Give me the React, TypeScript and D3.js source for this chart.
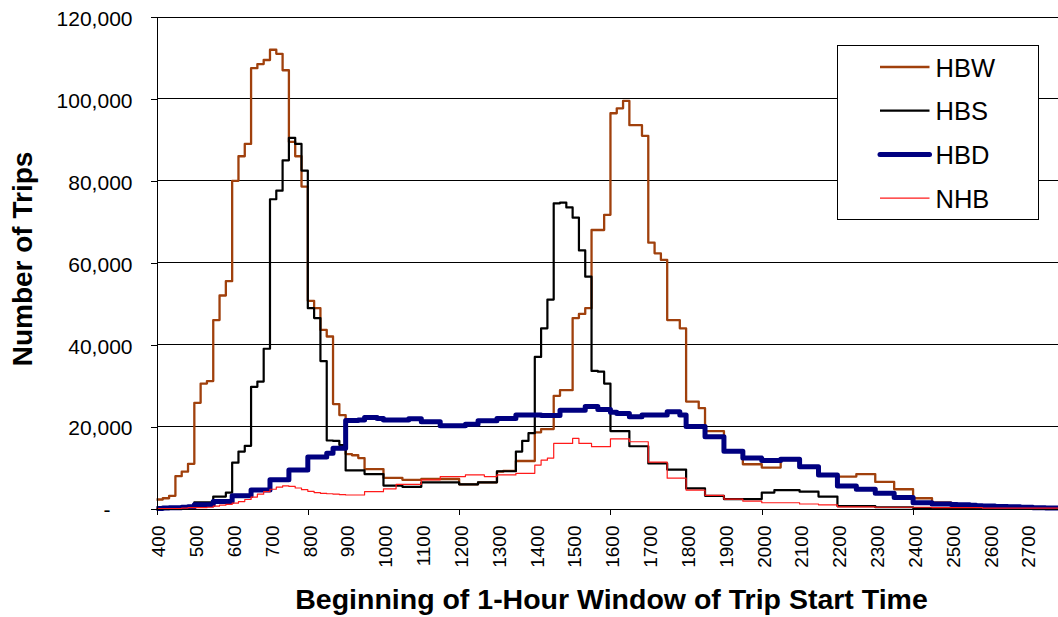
import React, { useEffect, useRef } from 'react';
import * as d3 from 'd3';

// Trips in a rolling 1-hour window, one value per 10-minute start time (400, 410, ... 2750)
const hbw = [
  2200, 2500, 3100, 7900, 9000, 10900, 25800, 30500, 31100, 46000, 52000, 55500,
  80000, 86000, 89000, 107500, 108500, 109500, 112000, 111000, 107000, 89500, 86000, 78600,
  50700, 48900, 43600, 42000, 25500, 22800, 13300, 13000, 12300, 9600, 9600, 9600,
  7500, 7500, 7500, 7000, 7000, 7000, 7200, 7200, 7200, 7200, 7200, 7200,
  5900, 5900, 5900, 6400, 6400, 6400, 9000, 9200, 9200, 11600, 11600, 11600,
  18600, 19400, 19400, 27500, 28900, 28900, 46500, 47500, 48900, 68000, 68000, 71700,
  96500, 97700, 99500, 93600, 93600, 91000, 64900, 62300, 60700, 46000, 46000, 44000,
  26100, 26100, 24500, 18900, 18900, 18900, 14000, 14000, 14000, 10800, 10800, 10800,
  10000, 10000, 10000, 11800, 11800, 11800, 10100, 10100, 10100, 8400, 8400, 8400,
  7800, 7800, 7800, 8400, 8400, 8400, 6500, 6500, 6500, 4700, 4700, 4700,
  2500, 2500, 2500, 1500, 1500, 1500, 900, 900, 900, 900, 600, 600,
  500, 500, 400, 400, 300, 300, 200, 200, 200, 100, 100, 100,
];

const hbs = [
  0, 100, 200, 300, 500, 600, 1500, 1500, 1500, 2900, 2900, 3900,
  11200, 13900, 15300, 29700, 31000, 39000, 75500, 77600, 85000, 90500, 89000, 82500,
  48900, 46500, 36000, 16600, 16500, 15500, 9300, 9300, 9300, 8400, 8400, 8400,
  5600, 5600, 5600, 5300, 5300, 5300, 6400, 6400, 6400, 6400, 6400, 6400,
  5900, 5900, 5900, 6400, 6400, 6400, 9100, 9100, 9100, 13900, 16500, 18400,
  37000, 44000, 51000, 74500, 74700, 73500, 71000, 63000, 56600, 33600, 33400, 30500,
  18900, 18900, 18900, 15200, 15200, 15200, 11000, 11000, 11000, 9500, 9500, 9500,
  4900, 4900, 4900, 3100, 3100, 3100, 2300, 2300, 2300, 2300, 2300, 2300,
  3900, 3900, 4500, 4500, 4500, 4500, 4100, 4100, 4100, 2900, 2900, 2900,
  600, 600, 600, 600, 600, 600, 300, 300, 300, 300, 300, 300,
  100, 100, 100, 100, 100, 100, 100, 100, 100, 100, 0, 0,
  0, 0, 0, 0, 0, 0, 0, 0, 0, 0, 0, 0,
];

const hbd = [
  0, 100, 200, 200, 300, 400, 900, 900, 900, 1700, 1700, 1700,
  3100, 3100, 3100, 4500, 4500, 4500, 7000, 7000, 7000, 9400, 9400, 9400,
  12600, 12600, 12600, 13500, 14700, 14700, 21500, 21500, 21600, 22200, 22200, 22000,
  21600, 21600, 21600, 21600, 21900, 21900, 21200, 21200, 21200, 20200, 20200, 20200,
  20200, 20600, 20600, 21400, 21400, 21400, 22000, 22000, 22000, 22800, 22800, 22800,
  22800, 22700, 22700, 22700, 24000, 24000, 24000, 24000, 24900, 24900, 24200, 24200,
  23500, 23200, 23200, 22400, 22400, 22800, 22800, 22800, 22800, 23600, 23600, 22800,
  20000, 20000, 20000, 17500, 17500, 17500, 14000, 14000, 14000, 12300, 12300, 12300,
  11700, 11700, 11700, 12000, 12000, 12000, 10200, 10200, 10200, 8200, 8200, 8200,
  5500, 5500, 5500, 4700, 4700, 4700, 3700, 3700, 3700, 2700, 2700, 2700,
  1400, 1400, 1400, 1100, 1100, 1100, 1000, 900, 900, 800, 700, 600,
  600, 500, 500, 400, 400, 300, 300, 200, 200, 100, 100, 100,
];

const nhb = [
  0, 0, 0, 0, 100, 200, 200, 200, 300, 600, 800, 1000,
  1300, 1700, 2200, 2800, 3500, 4100, 4700, 5200, 5500, 5400, 5000, 4600,
  4200, 3900, 3700, 3600, 3500, 3400, 3300, 3300, 3300, 4100, 4100, 4100,
  4800, 4800, 5900, 5900, 5900, 5900, 7000, 7000, 7000, 7800, 7800, 7800,
  7800, 8200, 8200, 8200, 7800, 7800, 8200, 8200, 8200, 8600, 8600, 8600,
  10600, 11800, 12300, 15900, 15900, 15900, 17100, 15900, 15900, 15100, 15100, 15100,
  17000, 17000, 17000, 16300, 16300, 16300, 11300, 11300, 11300, 7400, 7400, 7400,
  4500, 4500, 4500, 3200, 3200, 3200, 2300, 2300, 2300, 1800, 1800, 1800,
  1400, 1400, 1400, 1400, 1400, 1400, 1100, 1100, 1100, 900, 900, 900,
  400, 400, 400, 400, 400, 400, 300, 300, 300, 300, 300, 300,
  300, 300, 300, 200, 200, 200, 200, 200, 200, 200, 200, 100,
  100, 100, 100, 100, 100, 100, 100, 100, 100, 100, 100, 100,
];

const hourLabels = [
  '400', '500', '600', '700', '800', '900', '1000', '1100', '1200', '1300', '1400', '1500',
  '1600', '1700', '1800', '1900', '2000', '2100', '2200', '2300', '2400', '2500', '2600', '2700',
];
const yTicks = [0, 20000, 40000, 60000, 80000, 100000, 120000];

const series = [
  { name: 'HBW', values: hbw, color: '#A0400C', width: 2.3 },
  { name: 'HBS', values: hbs, color: '#000000', width: 2.2 },
  { name: 'HBD', values: hbd, color: '#000080', width: 5 },
  { name: 'NHB', values: nhb, color: '#FF1A1A', width: 1.2 },
];

const FONT = '"Liberation Sans", Arial, sans-serif';
const W = 1058;
const H = 617;

const x = d3.scaleLinear().domain([0, hbw.length - 1]).range([156.5, 1058.1]);
const y = d3.scaleLinear().domain([0, 120000]).range([508.5, 17]);

const App = () => {
  const xAxisRef = useRef<SVGGElement>(null);
  const yAxisRef = useRef<SVGGElement>(null);

  useEffect(() => {
    // Y axis: labels right aligned, zero shown as a dash
    const ya = d3.select(yAxisRef.current);
    ya.selectAll('*').remove();
    ya.call(
      d3.axisLeft(y)
        .tickValues(yTicks)
        .tickSize(6)
        .tickSizeOuter(0)
        .tickPadding(18)
        .tickFormat((d) => (d === 0 ? '-' : d3.format(',')(d as number)))
    );
    ya.attr('color', '#000').attr('shape-rendering', 'crispEdges');
    ya.selectAll('text')
      .attr('font-size', 21)
      .attr('font-family', FONT)
      .attr('dy', '0.4em')
      .attr('x', (d) => (d === 0 ? -46 : -24));

    // X axis: a label every hour, a tick mark every four hours
    const xa = d3.select(xAxisRef.current);
    xa.selectAll('*').remove();
    xa.call(
      d3.axisBottom(x)
        .tickValues(hourLabels.map((_, k) => k * 6))
        .tickSize(6)
        .tickSizeOuter(0)
        .tickFormat((_, k) => hourLabels[k])
    );
    xa.attr('color', '#000').attr('shape-rendering', 'crispEdges');
    xa.selectAll('.tick line').attr('y2', (d) => ((d as number) % 24 === 0 ? 6 : 0));
    xa.selectAll('text')
      .attr('font-size', 19)
      .attr('font-family', FONT)
      .attr('text-anchor', 'end')
      .attr('transform', 'rotate(-90)')
      .attr('x', -17)
      .attr('y', 8.3)
      .attr('dy', 0);
  }, []);

  const line = d3.line<number>()
    .x((_, i) => x(i))
    .y((d) => y(d))
    .curve(d3.curveStepAfter);

  const legendY = [67, 110.7, 154.4, 198.1];

  return (
    <svg
      width={W}
      height={H}
      style={{ position: 'absolute', left: 0, top: 0, background: '#fff' }}
      fontFamily={FONT}
    >
      {/* gridlines */}
      <g shapeRendering="crispEdges">
        {yTicks.filter((t) => t > 0).map((t) => (
          <line key={t} x1={x(0)} x2={W} y1={y(t)} y2={y(t)} stroke="#000" strokeWidth={1} />
        ))}
      </g>

      {/* series */}
      {series.map((s) => (
        <path
          key={s.name}
          d={line(s.values) || ''}
          fill="none"
          stroke={s.color}
          strokeWidth={s.width}
          strokeLinejoin="round"
        />
      ))}

      <g ref={yAxisRef} transform={`translate(${x(0)},0)`} />
      <g ref={xAxisRef} transform={`translate(0,${y(0)})`} />

      {/* axis titles */}
      <text
        transform="translate(31.7,259) rotate(-90)"
        textAnchor="middle"
        fontSize={28}
        fontWeight="bold"
      >
        Number of Trips
      </text>
      <text x={611.5} y={609} textAnchor="middle" fontSize={28.5} fontWeight="bold">
        Beginning of 1-Hour Window of Trip Start Time
      </text>

      {/* legend */}
      <g>
        <rect x={837.5} y={45.5} width={201} height={174} fill="#fff" stroke="#000" strokeWidth={1} />
        {series.map((s, k) => (
          <g key={s.name}>
            <line
              x1={880}
              x2={929.5}
              y1={legendY[k]}
              y2={legendY[k]}
              stroke={s.color}
              strokeWidth={s.width}
              strokeLinecap={s.width > 3 ? 'round' : 'butt'}
            />
            <text x={935.5} y={legendY[k] + 9.5} fontSize={25.5} fill="#000">
              {s.name}
            </text>
          </g>
        ))}
      </g>
    </svg>
  );
};

export default App;
